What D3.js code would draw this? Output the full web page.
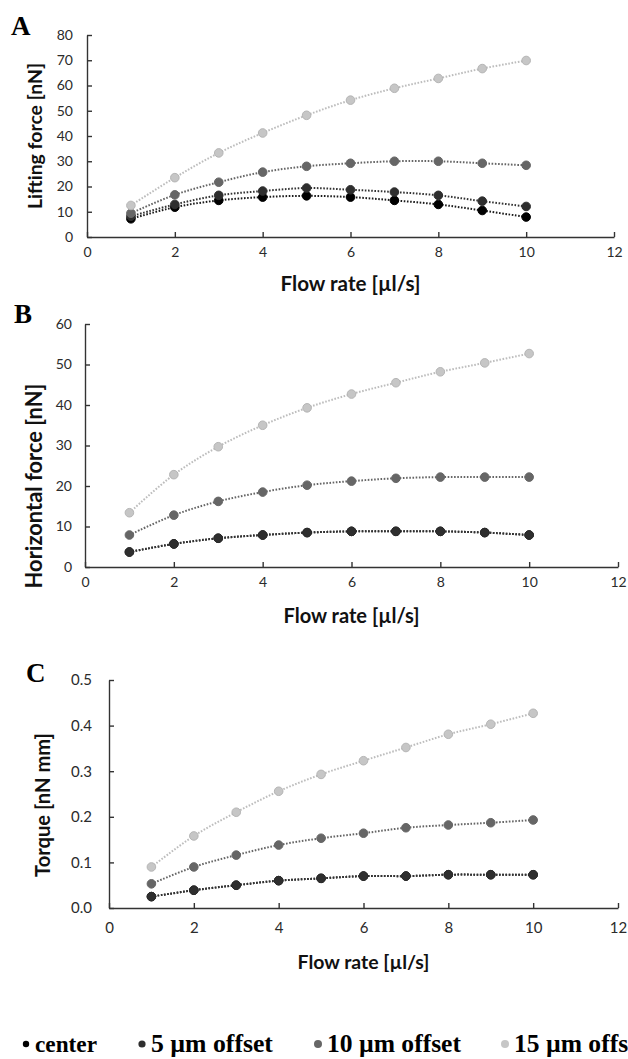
<!DOCTYPE html>
<html>
<head>
<meta charset="utf-8">
<script src="https://cdn.jsdelivr.net/npm/d3@7"></script>
<style>
  body { margin: 0; background: #fff; }
  svg { display: block; }
  .tick text { font-family: Lato, "Open Sans", sans-serif; font-size: 14px; fill: #2b2b2b; }
  .axis path, .axis line { stroke: #333; stroke-width: 1.4; }
  .axis-title { font-family: Lato, "Open Sans", sans-serif; font-weight: 700; fill: #111; }
  .panel-letter { font-family: "Liberation Serif", "DejaVu Serif", serif; font-weight: 700; font-size: 27px; fill: #000; }
  .legend text { font-family: "Liberation Serif", "DejaVu Serif", serif; font-weight: 700; fill: #000; }
</style>
</head>
<body>
<svg id="fig"></svg>
<script>
// flow rate [µl/s]
const flowRate = [1, 2, 3, 4, 5, 6, 7, 8, 9, 10];
const seriesNames = ['center', '5 µm offset', '10 µm offset', '15 µm offset'];

// A: lifting force [nN]
const liftCenter = [7.2, 11.8, 14.5, 15.8, 16.3, 15.8, 14.5, 12.9, 10.5, 7.9];
const lift5 = [8.2, 12.9, 16.5, 18.2, 19.4, 18.7, 17.8, 16.5, 14.2, 12.1];
const lift10 = [9.4, 16.7, 21.7, 25.7, 28.0, 29.2, 30.0, 30.0, 29.2, 28.4];
const lift15 = [12.5, 23.5, 33.3, 41.2, 48.2, 54.2, 58.9, 62.8, 66.7, 69.9];

// B: horizontal force [nN]
const horizCenter = [3.7, 5.7, 7.1, 7.9, 8.5, 8.8, 8.8, 8.8, 8.5, 7.9];
const horiz5 = [3.7, 5.7, 7.1, 7.9, 8.5, 8.8, 8.8, 8.8, 8.5, 7.9];
const horiz10 = [7.9, 12.8, 16.2, 18.5, 20.2, 21.2, 21.9, 22.2, 22.2, 22.2];
const horiz15 = [13.4, 22.8, 29.7, 35.0, 39.3, 42.7, 45.5, 48.2, 50.4, 52.7];

// C: torque [nN mm]
const torqueCenter = [0.025, 0.039, 0.050, 0.060, 0.065, 0.070, 0.070, 0.073, 0.073, 0.073];
const torque5 = [0.025, 0.039, 0.050, 0.060, 0.065, 0.070, 0.070, 0.073, 0.073, 0.073];
const torque10 = [0.053, 0.090, 0.116, 0.138, 0.153, 0.164, 0.176, 0.182, 0.187, 0.193];
const torque15 = [0.090, 0.158, 0.210, 0.256, 0.293, 0.323, 0.352, 0.381, 0.403, 0.427];

const xTicks = [0, 2, 4, 6, 8, 10, 12];
const liftTicks = [0, 10, 20, 30, 40, 50, 60, 70, 80];
const horizTicks = [0, 10, 20, 30, 40, 50, 60];
const torqueTicks = [0, 0.1, 0.2, 0.3, 0.4, 0.5];

const markerFill = ['#000', '#2e2e2e', '#666', '#c6c6c6'];
const lineStroke = ['#1a1a1a', '#333', '#666', '#bdbdbd'];

const W = 628, H = 1059;
const svg = d3.select('#fig').attr('width', W).attr('height', H);

// scale a text's font so its rendered width matches the width seen in the figure
function fitText(sel, base, width) {
  sel.style('font-size', base + 'px');
  const len = sel.node().getComputedTextLength();
  sel.style('font-size', (base * width / len).toFixed(2) + 'px');
}

const panels = [
  {letter: 'A', lx: 11, ly: 35, left: 87, right: 614, top: 35, bottom: 237,
   yMax: 80, yTicks: liftTicks, fmt: d3.format('d'), yTitle: 'Lifting force [nN]', ytx: 35, ytw: 146,
   xty: 291, xtw: 140, labelGap: 14, xLabelY: 20, tickSize: 14,
   series: [liftCenter, lift5, lift10, lift15]},
  {letter: 'B', lx: 14, ly: 323, left: 85, right: 618, top: 324, bottom: 567,
   yMax: 60, yTicks: horizTicks, fmt: d3.format('d'), yTitle: 'Horizontal force [nN]', ytx: 34, ytw: 205, ytc: 486,
   xty: 623, xtw: 136, labelGap: 13, xLabelY: 20, tickSize: 14,
   series: [horizCenter, horiz5, horiz10, horiz15]},
  {letter: 'C', lx: 26, ly: 682, left: 109, right: 618, top: 680, bottom: 908,
   yMax: 0.5, yTicks: torqueTicks, fmt: d3.format('.1f'), yTitle: 'Torque [nN mm]', ytx: 43, ytw: 144, ytc: 805,
   xty: 969, xtw: 132, labelGap: 17, xLabelY: 24, tickSize: 15,
   series: [torqueCenter, torque5, torque10, torque15]}
];

panels.forEach(p => {
  const g = svg.append('g');
  const x = d3.scaleLinear().domain([0, 12]).range([p.left, p.right]);
  const y = d3.scaleLinear().domain([0, p.yMax]).range([p.bottom, p.top]);

  const xAxis = d3.axisBottom(x).tickValues(xTicks).tickSize(-5).tickSizeOuter(0)
      .tickPadding(p.xLabelY - 10);
  const yAxis = d3.axisLeft(y).tickValues(p.yTicks).tickFormat(p.fmt).tickSize(-5).tickSizeOuter(0)
      .tickPadding(p.labelGap);

  const xg = g.append('g').attr('class', 'axis').attr('transform', `translate(0,${p.bottom})`).call(xAxis);
  const yg = g.append('g').attr('class', 'axis').attr('transform', `translate(${p.left},0)`).call(yAxis);
  xg.selectAll('text').style('font-size', p.tickSize + 'px');
  yg.selectAll('text').style('font-size', p.tickSize + 'px');

  const line = d3.line()
      .x((d, i) => x(flowRate[i]))
      .y(d => y(d))
      .curve(d3.curveCatmullRom.alpha(0.5));

  p.series.forEach((vals, si) => {
    g.append('path')
      .datum(vals)
      .attr('d', line)
      .attr('fill', 'none')
      .attr('stroke', lineStroke[si])
      .attr('stroke-width', 2)
      .attr('stroke-dasharray', '1.6,1.6');
  });
  p.series.forEach((vals, si) => {
    g.selectAll(null)
      .data(vals)
      .join('circle')
      .attr('cx', (d, i) => x(flowRate[i]))
      .attr('cy', d => y(d))
      .attr('r', 4.3)
      .attr('fill', markerFill[si])
      .attr('stroke', si === 3 ? '#b5b5b5' : markerFill[si])
      .attr('stroke-width', 1);
  });

  g.append('text').attr('class', 'panel-letter').attr('x', p.lx).attr('y', p.ly).text(p.letter);

  const yt = g.append('text').attr('class', 'axis-title')
    .attr('transform', `translate(${p.ytx},${p.ytc || (p.top + p.bottom) / 2}) rotate(-90)`)
    .attr('text-anchor', 'middle').attr('dy', '0.35em')
    .text(p.yTitle);
  fitText(yt, 16, p.ytw);

  const xt = g.append('text').attr('class', 'axis-title')
    .attr('x', (p.left + p.right) / 2).attr('y', p.xty)
    .attr('text-anchor', 'middle')
    .text('Flow rate [µl/s]');
  fitText(xt, 16, p.xtw);
});

// legend along the bottom (the last entry runs off the right edge, as in the figure)
const legendX = [26, 142, 318, 505];
const legendW = [62, 122, 134, 134];
const legendR = [3.2, 3.6, 4, 4];
const legend = svg.append('g').attr('class', 'legend');
seriesNames.forEach((name, i) => {
  legend.append('circle').attr('cx', legendX[i]).attr('cy', 1044).attr('r', legendR[i]).attr('fill', markerFill[i]);
  const t = legend.append('text').attr('x', legendX[i] + 9).attr('y', 1052).text(name);
  if (i < 3) fitText(t, 20, legendW[i]);
  else t.style('font-size', legend.select('text:nth-of-type(3)').style('font-size'));
});
</script>
</body>
</html>
